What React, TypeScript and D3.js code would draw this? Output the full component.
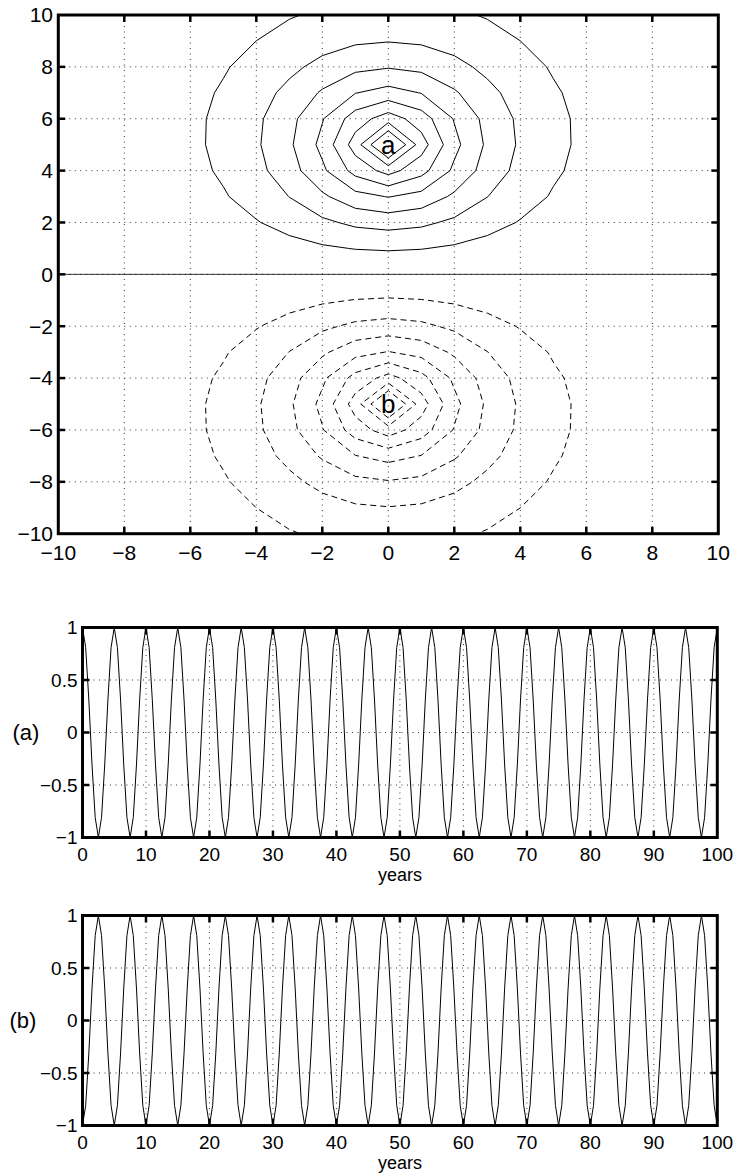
import React from "react";
import * as d3 from "d3";

// ---------- Top panel: field on an integer grid (quadrant x = 0..10, y = 0..10) ----------
const gridXValues = [0, 1, 2, 3, 4, 5, 6, 7, 8, 9, 10];
// rows indexed by y = 0 .. 10 (row y=0 is the zero line), columns x = 0 .. 10
const fieldRowY0 = [0, 0, 0, 0, 0, 0, 0, 0, 0, 0, 0];
const fieldRowY1 = [1.101, 1.034, 0.866, 0.663, 0.477, 0.329, 0.221, 0.146, 0.095, 0.062, 0.04];
const fieldRowY2 = [2.38, 2.209, 1.802, 1.343, 0.946, 0.644, 0.429, 0.282, 0.184, 0.119, 0.077];
const fieldRowY3 = [4.045, 3.654, 2.828, 2.016, 1.378, 0.921, 0.607, 0.397, 0.258, 0.168, 0.109];
const fieldRowY4 = [6.366, 5.358, 3.8, 2.572, 1.71, 1.127, 0.738, 0.482, 0.313, 0.204, 0.132];
const fieldRowY5 = [9.719, 6.458, 4.281, 2.83, 1.866, 1.227, 0.805, 0.527, 0.345, 0.225, 0.147];
const fieldRowY6 = [6.515, 5.504, 3.934, 2.691, 1.811, 1.209, 0.803, 0.531, 0.351, 0.231, 0.152];
const fieldRowY7 = [4.367, 3.967, 3.117, 2.27, 1.592, 1.094, 0.743, 0.5, 0.335, 0.223, 0.148];
const fieldRowY8 = [2.927, 2.741, 2.289, 1.766, 1.297, 0.923, 0.644, 0.444, 0.303, 0.205, 0.138];
const fieldRowY9 = [1.962, 1.867, 1.62, 1.308, 1.001, 0.738, 0.531, 0.375, 0.261, 0.18, 0.123];
const fieldRowY10 = [1.315, 1.264, 1.125, 0.939, 0.744, 0.567, 0.42, 0.304, 0.216, 0.152, 0.106];
const fieldQuadrant = [
  fieldRowY0, fieldRowY1, fieldRowY2, fieldRowY3, fieldRowY4, fieldRowY5,
  fieldRowY6, fieldRowY7, fieldRowY8, fieldRowY9, fieldRowY10,
];
const positiveLevels = [1, 2, 3, 4, 5, 6, 7, 8];
const zeroLevels = [0];
const negativeLevels = [-8, -7, -6, -5, -4, -3, -2, -1];
const contourTicks = [-10, -8, -6, -4, -2, 0, 2, 4, 6, 8, 10];
const pointLabels = [
  { text: "a", x: 0, y: 5 },
  { text: "b", x: 0, y: -5 },
];

// ---------- Bottom panels: time series, one value every half year from 0 to 100 ----------
const sampleStepYears = 0.5;
const seriesA = [
  1, 0.809, 0.309, -0.309, -0.809, -1, -0.809, -0.309, 0.309, 0.809,
  1, 0.809, 0.309, -0.309, -0.809, -1, -0.809, -0.309, 0.309, 0.809,
  1, 0.809, 0.309, -0.309, -0.809, -1, -0.809, -0.309, 0.309, 0.809,
  1, 0.809, 0.309, -0.309, -0.809, -1, -0.809, -0.309, 0.309, 0.809,
  1, 0.809, 0.309, -0.309, -0.809, -1, -0.809, -0.309, 0.309, 0.809,
  1, 0.809, 0.309, -0.309, -0.809, -1, -0.809, -0.309, 0.309, 0.809,
  1, 0.809, 0.309, -0.309, -0.809, -1, -0.809, -0.309, 0.309, 0.809,
  1, 0.809, 0.309, -0.309, -0.809, -1, -0.809, -0.309, 0.309, 0.809,
  1, 0.809, 0.309, -0.309, -0.809, -1, -0.809, -0.309, 0.309, 0.809,
  1, 0.809, 0.309, -0.309, -0.809, -1, -0.809, -0.309, 0.309, 0.809,
  1, 0.809, 0.309, -0.309, -0.809, -1, -0.809, -0.309, 0.309, 0.809,
  1, 0.809, 0.309, -0.309, -0.809, -1, -0.809, -0.309, 0.309, 0.809,
  1, 0.809, 0.309, -0.309, -0.809, -1, -0.809, -0.309, 0.309, 0.809,
  1, 0.809, 0.309, -0.309, -0.809, -1, -0.809, -0.309, 0.309, 0.809,
  1, 0.809, 0.309, -0.309, -0.809, -1, -0.809, -0.309, 0.309, 0.809,
  1, 0.809, 0.309, -0.309, -0.809, -1, -0.809, -0.309, 0.309, 0.809,
  1, 0.809, 0.309, -0.309, -0.809, -1, -0.809, -0.309, 0.309, 0.809,
  1, 0.809, 0.309, -0.309, -0.809, -1, -0.809, -0.309, 0.309, 0.809,
  1, 0.809, 0.309, -0.309, -0.809, -1, -0.809, -0.309, 0.309, 0.809,
  1, 0.809, 0.309, -0.309, -0.809, -1, -0.809, -0.309, 0.309, 0.809,
  1,
];
const seriesB = [
  -1, -0.809, -0.309, 0.309, 0.809, 1, 0.809, 0.309, -0.309, -0.809,
  -1, -0.809, -0.309, 0.309, 0.809, 1, 0.809, 0.309, -0.309, -0.809,
  -1, -0.809, -0.309, 0.309, 0.809, 1, 0.809, 0.309, -0.309, -0.809,
  -1, -0.809, -0.309, 0.309, 0.809, 1, 0.809, 0.309, -0.309, -0.809,
  -1, -0.809, -0.309, 0.309, 0.809, 1, 0.809, 0.309, -0.309, -0.809,
  -1, -0.809, -0.309, 0.309, 0.809, 1, 0.809, 0.309, -0.309, -0.809,
  -1, -0.809, -0.309, 0.309, 0.809, 1, 0.809, 0.309, -0.309, -0.809,
  -1, -0.809, -0.309, 0.309, 0.809, 1, 0.809, 0.309, -0.309, -0.809,
  -1, -0.809, -0.309, 0.309, 0.809, 1, 0.809, 0.309, -0.309, -0.809,
  -1, -0.809, -0.309, 0.309, 0.809, 1, 0.809, 0.309, -0.309, -0.809,
  -1, -0.809, -0.309, 0.309, 0.809, 1, 0.809, 0.309, -0.309, -0.809,
  -1, -0.809, -0.309, 0.309, 0.809, 1, 0.809, 0.309, -0.309, -0.809,
  -1, -0.809, -0.309, 0.309, 0.809, 1, 0.809, 0.309, -0.309, -0.809,
  -1, -0.809, -0.309, 0.309, 0.809, 1, 0.809, 0.309, -0.309, -0.809,
  -1, -0.809, -0.309, 0.309, 0.809, 1, 0.809, 0.309, -0.309, -0.809,
  -1, -0.809, -0.309, 0.309, 0.809, 1, 0.809, 0.309, -0.309, -0.809,
  -1, -0.809, -0.309, 0.309, 0.809, 1, 0.809, 0.309, -0.309, -0.809,
  -1, -0.809, -0.309, 0.309, 0.809, 1, 0.809, 0.309, -0.309, -0.809,
  -1, -0.809, -0.309, 0.309, 0.809, 1, 0.809, 0.309, -0.309, -0.809,
  -1, -0.809, -0.309, 0.309, 0.809, 1, 0.809, 0.309, -0.309, -0.809,
  -1,
];
const yearTicks = [0, 10, 20, 30, 40, 50, 60, 70, 80, 90, 100];
const seriesTicks = [-1, -0.5, 0, 0.5, 1];
const seriesTickLabels = ["\u22121", "\u22120.5", "0", "0.5", "1"];
const panelLabels = ["(a)", "(b)"];
const xAxisTitle = "years";

const FONT = "'Liberation Sans', Arial, Helvetica, sans-serif";
const minus = (s: string) => s.replace("-", "\u2212");

function ContourPanel() {
  const L = 58.3, R = 718.3, T = 15, B = 533.7;
  const x = d3.scaleLinear().domain([-10, 10]).range([L, R]);
  const y = d3.scaleLinear().domain([-10, 10]).range([B, T]);

  // full grid, row 0 = y=10 (top), col 0 = x=-10
  const n = 21;
  const values: number[] = [];
  for (let j = 0; j < n; j++) {
    const yv = 10 - j;
    for (let i = 0; i < n; i++) {
      const xv = -10 + i;
      const q = fieldQuadrant[Math.abs(yv)][gridXValues.indexOf(Math.abs(xv))];
      values.push(yv < 0 ? -q : q);
    }
  }
  const gen = d3.contours().size([n, n]).smooth(true);
  const toPix = d3.geoTransform({
    point(px: number, py: number) {
      (this as any).stream.point(x(-10 + px - 0.5), y(10 - (py - 0.5)));
    },
  });
  const path = d3.geoPath(toPix);
  const draw = (levels: number[]) => gen.thresholds(levels)(values).map((c) => path(c) || "");

  const pos = draw(positiveLevels);
  const zer = draw(zeroLevels);
  const neg = draw(negativeLevels);

  const inner = contourTicks.slice(1, -1);
  const tl = 7;
  return (
    <g>
      <defs>
        <clipPath id="clipTop">
          <rect x={L} y={T} width={R - L} height={B - T} />
        </clipPath>
      </defs>
      {inner.map((v) => (
        <line key={"gx" + v} x1={x(v)} x2={x(v)} y1={T} y2={B} stroke="#333" strokeWidth={1} strokeDasharray="1,4.5" />
      ))}
      {inner.map((v) => (
        <line key={"gy" + v} y1={y(v)} y2={y(v)} x1={L} x2={R} stroke="#333" strokeWidth={1} strokeDasharray="1,4.5" />
      ))}
      <g clipPath="url(#clipTop)" fill="none" stroke="#000" strokeWidth={1}>
        {pos.map((d, k) => <path key={"p" + k} d={d} />)}
        {zer.map((d, k) => <path key={"z" + k} d={d} strokeWidth={0.8} />)}
        {neg.map((d, k) => <path key={"n" + k} d={d} strokeDasharray="6,4" />)}
      </g>
      {pointLabels.map((p) => (
        <text key={p.text} x={x(p.x)} y={y(p.y)} dy="0.35em" textAnchor="middle" fontFamily={FONT} fontSize={26}>
          {p.text}
        </text>
      ))}
      <rect x={L} y={T} width={R - L} height={B - T} fill="none" stroke="#000" strokeWidth={3} />
      {inner.map((v) => (
        <g key={"t" + v} stroke="#000" strokeWidth={2.5}>
          <line x1={x(v)} x2={x(v)} y1={B} y2={B - tl} />
          <line x1={x(v)} x2={x(v)} y1={T} y2={T + tl} />
          <line y1={y(v)} y2={y(v)} x1={L} x2={L + tl} />
          <line y1={y(v)} y2={y(v)} x1={R} x2={R - tl} />
        </g>
      ))}
      {contourTicks.map((v) => (
        <text key={"lx" + v} x={x(v)} y={560} textAnchor="middle" fontFamily={FONT} fontSize={21}>
          {minus(String(v))}
        </text>
      ))}
      {contourTicks.map((v) => (
        <text key={"ly" + v} x={53} y={y(v)} dy="0.35em" textAnchor="end" fontFamily={FONT} fontSize={21}>
          {minus(String(v))}
        </text>
      ))}
    </g>
  );
}

function SeriesPanel({ T, B, data, label, labelX, id }: { T: number; B: number; data: number[]; label: string; labelX: number; id: string }) {
  const L = 82.5, R = 717.3;
  const x = d3.scaleLinear().domain([0, 100]).range([L, R]);
  const y = d3.scaleLinear().domain([-1, 1]).range([B, T]);
  const line = d3.line<number>().x((_, i) => x(i * sampleStepYears)).y((v) => y(v));
  const tl = 7;
  const innerX = yearTicks.slice(1, -1);
  const innerY = seriesTicks.slice(1, -1);
  return (
    <g>
      {innerX.map((v) => (
        <line key={id + "gx" + v} x1={x(v)} x2={x(v)} y1={T} y2={B} stroke="#333" strokeWidth={1} strokeDasharray="1,4.5" />
      ))}
      {innerY.map((v) => (
        <line key={id + "gy" + v} y1={y(v)} y2={y(v)} x1={L} x2={R} stroke="#333" strokeWidth={1} strokeDasharray="1,4.5" />
      ))}
      <path d={line(data) || ""} fill="none" stroke="#000" strokeWidth={1} />
      <rect x={L} y={T} width={R - L} height={B - T} fill="none" stroke="#000" strokeWidth={3} />
      {innerX.map((v) => (
        <g key={id + "tx" + v} stroke="#000" strokeWidth={2.5}>
          <line x1={x(v)} x2={x(v)} y1={B} y2={B - tl} />
          <line x1={x(v)} x2={x(v)} y1={T} y2={T + tl} />
        </g>
      ))}
      {innerY.map((v) => (
        <g key={id + "ty" + v} stroke="#000" strokeWidth={2.5}>
          <line y1={y(v)} y2={y(v)} x1={L} x2={L + tl} />
          <line y1={y(v)} y2={y(v)} x1={R} x2={R - tl} />
        </g>
      ))}
      {yearTicks.map((v) => (
        <text key={id + "lx" + v} x={x(v)} y={B + 23} textAnchor="middle" fontFamily={FONT} fontSize={19}>
          {String(v)}
        </text>
      ))}
      {seriesTicks.map((v, k) => (
        <text key={id + "ly" + v} x={77.5} y={y(v)} dy="0.35em" textAnchor="end" fontFamily={FONT} fontSize={19}>
          {seriesTickLabels[k]}
        </text>
      ))}
      <text x={(L + R) / 2} y={B + 43.5} textAnchor="middle" fontFamily={FONT} fontSize={18}>
        {xAxisTitle}
      </text>
      <text x={labelX} y={y(0)} dy="0.35em" textAnchor="middle" fontFamily={FONT} fontSize={22}>
        {label}
      </text>
    </g>
  );
}

export default function App() {
  return (
    <svg width={736} height={1173} style={{ position: "absolute", left: 0, top: 0, background: "#fff" }}>
      <rect width={736} height={1173} fill="#fff" />
      <ContourPanel />
      <SeriesPanel id="a" T={627.5} B={837.5} data={seriesA} label={panelLabels[0]} labelX={26} />
      <SeriesPanel id="b" T={915.5} B={1125.5} data={seriesB} label={panelLabels[1]} labelX={23} />
    </svg>
  );
}
